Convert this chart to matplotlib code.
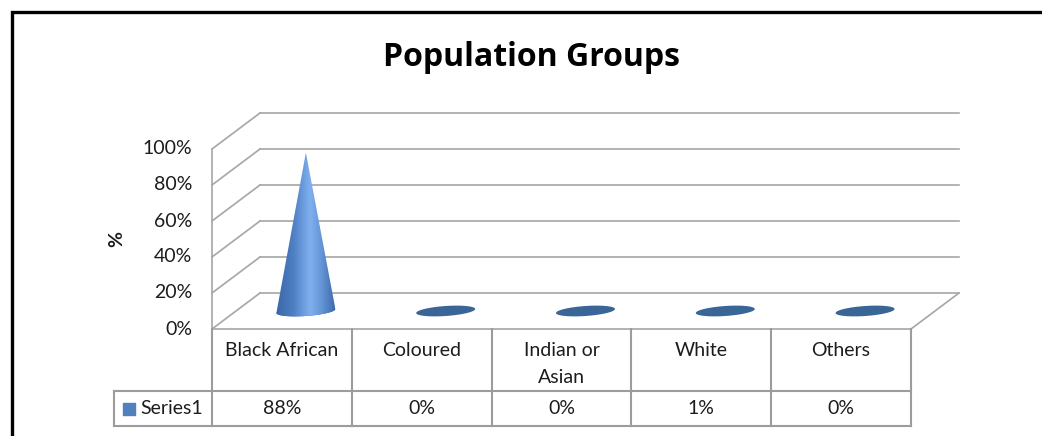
import matplotlib
matplotlib.use("Agg")
import matplotlib.pyplot as plt
import numpy as np
from matplotlib.path import Path
from matplotlib.patches import PathPatch, Rectangle
from matplotlib.colors import LinearSegmentedColormap

plt.rcParams['font.family'] = ['Lato', 'DejaVu Sans']

# data
categories = ['Black African', 'Coloured', 'Indian or\nAsian', 'White', 'Others']
values = [88, 0, 0, 1, 0]
series_name = 'Series1'
y_ticks = [0, 20, 40, 60, 80, 100]
title = 'Population Groups'

# layout in pixels -> data units (front plane: 5 columns over 699 px, 100% over 180 px)
W, H = 1042, 436
PX_X = 699 / len(categories)
PX_Y = 180 / 100
X0_PX, Y0_PX = 212, 329          # front-left floor corner (image coords)
DX = 48 / PX_X                   # depth offset
DY = 36 / PX_Y
ROW1 = -(391 - Y0_PX) / PX_Y     # bottom of category row
ROW2 = -(426 - Y0_PX) / PX_Y     # bottom of value row
LEG_X = -(X0_PX - 114) / PX_X    # left edge of legend cell

grid_c = '#A6A6A6'
table_c = '#9C9C9C'
text_c = '#1C1C1C'
disc_c = '#3A6597'
legend_c = '#4F81BD'
fs = 14

fig = plt.figure(figsize=(W / 100, H / 100), dpi=100)
ax = fig.add_axes([0, 0, 1, 1])
ax.axis('off')

n = len(categories)

# walls and floor
for t in y_ticks:
    ax.plot([0, DX], [t, t + DY], color=grid_c, lw=1.2, zorder=1)
    ax.plot([DX, n + DX], [t + DY, t + DY], color=grid_c, lw=1.2, zorder=1)
ax.plot([0, n], [0, 0], color=grid_c, lw=1.2, zorder=1)
ax.plot([n, n + DX], [0, DY], color=grid_c, lw=1.2, zorder=1)
ax.plot([0, 0], [ROW2, y_ticks[-1]], color=grid_c, lw=1.2, zorder=1)

for t in y_ticks:
    ax.text(-20 / PX_X, t, f'{t}%', ha='right', va='center', fontsize=fs, color=text_c)
ax.text(-95 / PX_X, 50, '%', rotation=90, ha='center', va='center',
        fontsize=fs, fontweight='bold', color=text_c)

# cones
cmap = LinearSegmentedColormap.from_list(
    'cone', [(0, '#3867A8'), (0.3, '#4F80C4'), (0.58, '#80B0EE'),
             (0.78, '#6394D6'), (1, '#3E6BAA')])
grad = np.linspace(0, 1, 256)[None, :]
a = 29.5 / PX_X      # base half-width
b = 5 / PX_Y         # base half-height
s = 2 / PX_Y         # slight tilt of the base
base_y = DY / 2
tt = np.linspace(0, 2 * np.pi, 100)
for i, v in enumerate(values):
    cx = i + 0.5 + DX / 2
    ex = cx + a * np.cos(tt)
    ey = base_y + b * np.sin(tt) + s * np.cos(tt)
    ax.fill(ex, ey, color=disc_c, lw=0, zorder=2)
    if v > b:
        lower = np.linspace(np.pi, 2 * np.pi, 60)
        px = list(cx + a * np.cos(lower)) + [cx]
        py = list(base_y + b * np.sin(lower) + s * np.cos(lower)) + [base_y + v]
        verts = list(zip(px, py)) + [(px[0], py[0])]
        patch = PathPatch(Path(verts), fc='none', ec='none', zorder=3)
        ax.add_patch(patch)
        im = ax.imshow(grad, extent=[cx - a, cx + a, base_y - b - s, base_y + v],
                       cmap=cmap, aspect='auto', zorder=3, interpolation='bilinear')
        im.set_clip_path(patch)

# data table
for i in range(n + 1):
    ax.plot([i, i], [ROW2, 0], color=table_c, lw=1.5, zorder=1)
ax.plot([LEG_X, LEG_X], [ROW2, ROW1], color=table_c, lw=1.5, zorder=1)
ax.plot([LEG_X, n], [ROW1, ROW1], color=table_c, lw=1.5, zorder=1)
ax.plot([LEG_X, n], [ROW2, ROW2], color=table_c, lw=1.5, zorder=1)

for i, (c, v) in enumerate(zip(categories, values)):
    ax.text(i + 0.5, -13 / PX_Y, c, ha='center', va='top', fontsize=fs,
            color=text_c, linespacing=1.68)
    ax.text(i + 0.5, (ROW1 + ROW2) / 2, f'{v}%', ha='center', va='center',
            fontsize=fs, color=text_c)

ax.scatter([LEG_X + 15 / PX_X], [(ROW1 + ROW2) / 2], marker='s', s=75,
           color=legend_c, zorder=3)
ax.text(LEG_X + 26 / PX_X, (ROW1 + ROW2) / 2, series_name, ha='left',
        va='center', fontsize=fs, color=text_c)

ax.set_xlim(-X0_PX / PX_X, (W - X0_PX) / PX_X)
ax.set_ylim(-(H - Y0_PX) / PX_Y, Y0_PX / PX_Y)

fig.text(531.5 / W, 1 - 58 / H, title, ha='center', va='center',
         fontsize=23, fontweight='bold', color='black',
         family=['Open Sans', 'DejaVu Sans'])

# outer frame
fig.add_artist(Rectangle((11.5 / W, -0.5), 2, 0.5 + 1 - 11.5 / H,
                         transform=fig.transFigure, fill=False,
                         ec='black', lw=2.4))

fig.savefig('out.png', dpi=100)
